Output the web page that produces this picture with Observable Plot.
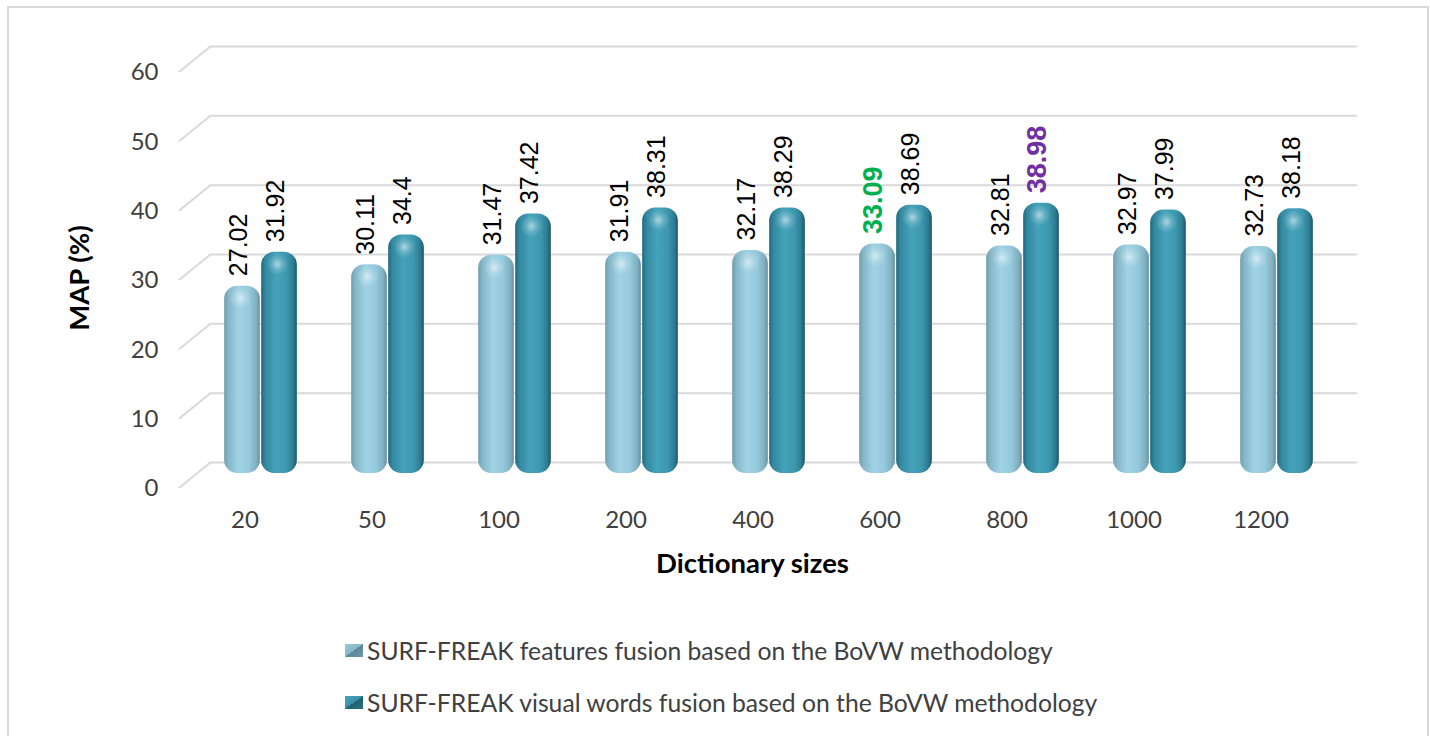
<!DOCTYPE html>
<html>
<head>
<meta charset="utf-8">
<script src="https://cdn.jsdelivr.net/npm/d3@7"></script>
<script src="https://cdn.jsdelivr.net/npm/@observablehq/plot@0.6"></script>
<style>
  html, body { margin: 0; padding: 0; background: #fff; }
  #frame { position: absolute; left: 7px; top: 6px; width: 1422px; height: 780px;
           border: 2px solid #d9d9d9; box-sizing: border-box; }
  #chart { position: absolute; left: 0; top: 0; }
  #legend { position: absolute; left: 345px; top: 624px; font-family: Lato, sans-serif;
            font-size: 24.7px; color: #404040; }
  #legend .item { display: flex; align-items: center; height: 52px; }
  #legend .swatch { width: 18px; height: 13px; margin-right: 4px; }
</style>
</head>
<body>
<div id="frame"></div>
<div id="chart"></div>
<div id="legend"></div>
<script>
// Dictionary sizes and MAP (%) for the two fusion strategies
const dictionarySizes = ["20", "50", "100", "200", "400", "600", "800", "1000", "1200"];
const featuresFusionMAP = [27.02, 30.11, 31.47, 31.91, 32.17, 33.09, 32.81, 32.97, 32.73];
const visualWordsFusionMAP = [31.92, 34.4, 37.42, 38.31, 38.29, 38.69, 38.98, 37.99, 38.18];
const seriesNames = [
  "SURF-FREAK features fusion based on the BoVW methodology",
  "SURF-FREAK visual words fusion based on the BoVW methodology"
];
const yTicks = [0, 10, 20, 30, 40, 50, 60];
// best value of each series gets its own label colour
const highlightColors = ["#00b050", "#7030a0"];

// pseudo-3D geometry
const W = 1430, H = 600;
const LEFT = 179, RIGHT = 1325, BOTTOM = 488, TOP = 72;
const DEPTH_DX = 16, DEPTH_DY = -13;      // half of the floor depth
const BAR_W = 36, BAR_GAP = 1;
const GRID = "#d9d9d9";
const INK = "#404040";

const bandwidth = (RIGHT - LEFT) / dictionarySizes.length;
const inset = (bandwidth - BAR_W) / 2;

function rowsFor(values, s) {
  const best = d3.max(values);
  return dictionarySizes.map((size, i) => ({
    size, value: values[i], series: s, best: values[i] === best
  }));
}
const seriesRows = [rowsFor(featuresFusionMAP, 0), rowsFor(visualWordsFusionMAP, 1)];

// diagonal floor/wall joints at the left of each gridline
function depthDiagonals(index, scales, values, dimensions) {
  const g = d3.create("svg:g").attr("stroke", GRID).attr("stroke-width", 2);
  const x0 = dimensions.marginLeft;
  for (const v of yTicks) {
    const y = scales.y(v);
    g.append("line").attr("x1", x0).attr("y1", y)
      .attr("x2", x0 + 2 * DEPTH_DX).attr("y2", y + 2 * DEPTH_DY);
  }
  return g.node();
}

const barMarks = seriesRows.flatMap((rows, s) => {
  const dx = DEPTH_DX + (s === 0 ? -(BAR_W + BAR_GAP) / 2 : (BAR_W + BAR_GAP) / 2);
  const labelOpts = {
    x: "size", y: "value", text: d => String(d.value),
    dx: dx - 4, dy: DEPTH_DY - 2 - 10,
    rotate: -90, textAnchor: "start", lineAnchor: "middle",
    fontFamily: "Liberation Sans, Arial, sans-serif"
  };
  return [
    Plot.barY(rows, {
      x: "size", y: "value", dx, dy: DEPTH_DY - 2,
      insetLeft: inset, insetRight: inset, rx: 13,
      fill: s === 0 ? "url(#cylLight)" : "url(#cylDark)"
    }),
    Plot.dot(rows, {
      x: "size", y: "value", dx: dx - 2, dy: DEPTH_DY - 2 + 12, r: 11,
      fill: "url(#capShine)", stroke: null
    }),
    Plot.text(rows.filter(d => !d.best), { ...labelOpts, fontSize: 25, fill: "#000" }),
    Plot.text(rows.filter(d => d.best), {
      ...labelOpts, fontSize: 27, fontWeight: "bold", fill: highlightColors[s]
    })
  ];
});

const chart = Plot.plot({
  width: W, height: H,
  marginLeft: LEFT, marginRight: W - RIGHT, marginTop: 67, marginBottom: H - BOTTOM,
  style: { fontFamily: "Lato, sans-serif", background: "transparent", overflow: "visible" },
  x: { type: "band", domain: dictionarySizes, range: [LEFT, RIGHT], padding: 0 },
  y: { domain: [0, 60], range: [BOTTOM, TOP] },
  marks: [
    Plot.ruleY(yTicks, { y: d => d, dx: 2 * DEPTH_DX, dy: 2 * DEPTH_DY, stroke: GRID, strokeWidth: 2 }),
    depthDiagonals,
    Plot.axisY(yTicks, { tickSize: 0, tickPadding: 21, fontSize: 24, fill: INK, label: null }),
    Plot.axisX({ tickSize: 0, tickPadding: 22, fontSize: 24, fill: INK, label: null }),
    ...barMarks,
    Plot.text(["MAP (%)"], { frameAnchor: "left", dx: -99, rotate: -90, textAnchor: "middle",
      lineAnchor: "middle", fontSize: 27.5, fontWeight: "bold", fill: "#000" }),
    Plot.text(["Dictionary sizes"], { frameAnchor: "bottom", dy: 76, textAnchor: "middle",
      lineAnchor: "middle", fontSize: 27.5, fontWeight: "bold", fill: "#000" })
  ]
});

// gradients that give the bars their cylinder shading
const defs = d3.select(chart).insert("defs", ":first-child");
function hGrad(id, stops) {
  const g = defs.append("linearGradient").attr("id", id)
    .attr("x1", 0).attr("x2", 1).attr("y1", 0).attr("y2", 0);
  for (const [o, c] of stops) g.append("stop").attr("offset", o).attr("stop-color", c);
}
hGrad("cylLight", [[0, "#6f9dad"], [0.12, "#86b7c8"], [0.4, "#9fd2e4"], [0.7, "#95c9db"], [0.9, "#80b0c1"], [1, "#688f9d"]]);
hGrad("cylDark", [[0, "#22687b"], [0.12, "#3389a0"], [0.42, "#45a2bb"], [0.72, "#3d97ae"], [0.9, "#2c7c91"], [1, "#1c5565"]]);
const shine = defs.append("radialGradient").attr("id", "capShine");
shine.append("stop").attr("offset", 0).attr("stop-color", "#ffffff").attr("stop-opacity", 0.55);
shine.append("stop").attr("offset", 0.5).attr("stop-color", "#ffffff").attr("stop-opacity", 0.2);
shine.append("stop").attr("offset", 1).attr("stop-color", "#ffffff").attr("stop-opacity", 0);

document.getElementById("chart").appendChild(chart);

// legend
const swatchBg = [
  "linear-gradient(to bottom right, #9ccbdb 0%, #86b6c6 50%, #5b8796 50%, #6d98a7 100%)",
  "linear-gradient(to bottom right, #4aa6bf 0%, #3790a8 50%, #21606f 50%, #2b7285 100%)"
];
const legend = d3.select("#legend");
seriesNames.forEach((name, s) => {
  const item = legend.append("div").attr("class", "item");
  item.append("span").attr("class", "swatch").style("background", swatchBg[s]);
  item.append("span").text(name);
});
</script>
</body>
</html>
